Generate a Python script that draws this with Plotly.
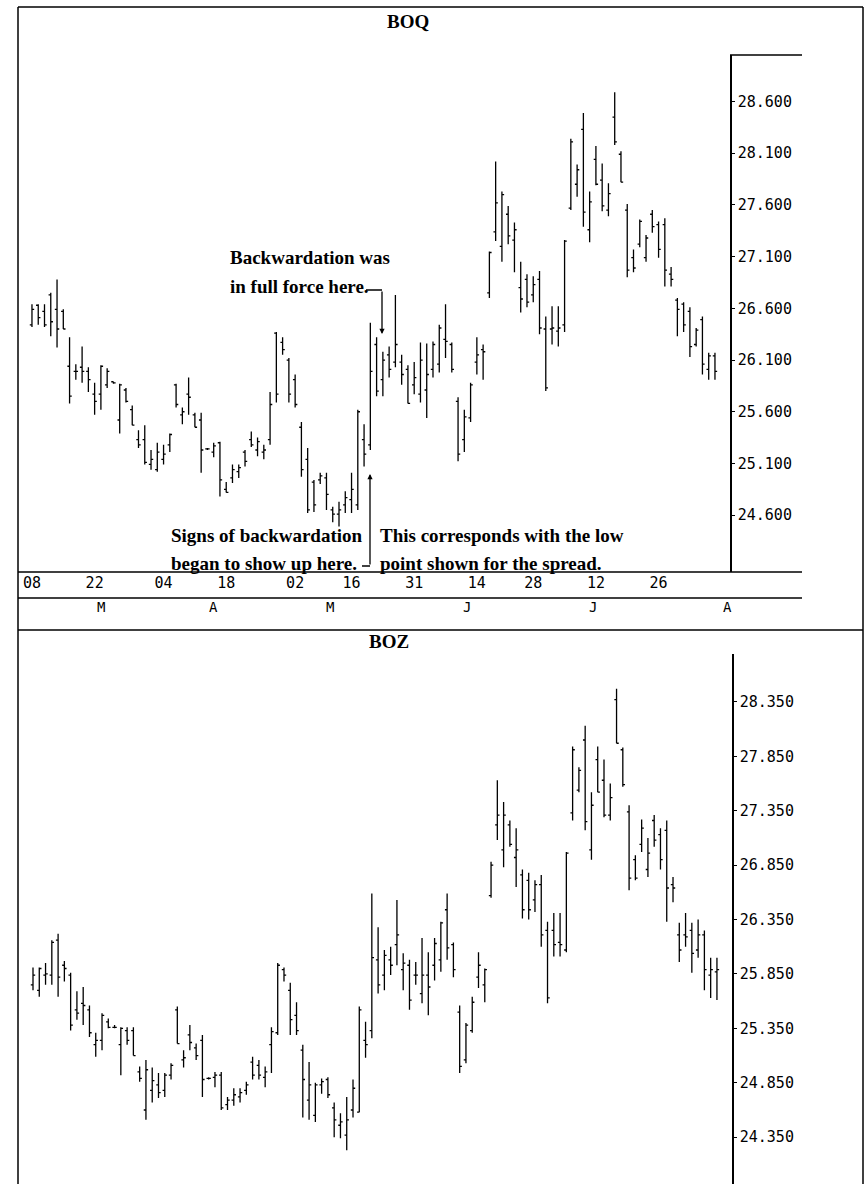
import plotly.graph_objects as go

# BOQ / BOZ daily bars (one entry per trading day)
days = list(range(110))

boq_open = [26.44, 26.63, 26.57, 26.73, 26.59, 26.57, 26.04, 25.99, 26.03, 25.99,
            25.77, 25.77, 25.86, 25.89, 25.52, 25.81, 25.62, 25.33, 25.33, 25.09,
            25.04, 25.14, 25.28, 25.86, 25.57, 25.77, 25.57, 25.52, 25.24, 25.21,
            25.30, 24.85, 24.96, 25.02, 25.21, 25.33, 25.23, 25.21, 25.33, 26.36,
            26.27, 26.10, 25.91, 25.45, 25.14, 24.92, 24.94, 24.96, 24.65, 24.61,
            24.70, 24.75, 24.70, 25.33, 25.28, 26.25, 25.91, 26.15, 26.08, 26.08,
            26.01, 25.86, 25.77, 25.81, 26.01, 26.06, 26.30, 26.25, 25.70, 25.33,
            25.54, 26.08, 26.20, 26.75, 27.34, 27.20, 27.51, 27.26, 26.80, 26.88,
            26.73, 26.88, 26.40, 26.40, 26.38, 26.44, 27.57, 27.80, 28.33, 27.36,
            28.04, 27.84, 27.55, 28.45, 28.09, 27.55, 27.09, 27.22, 27.09, 27.51,
            27.41, 27.41, 26.93, 26.68, 26.64, 26.57, 26.25, 26.49, 26.01, 26.14]
boq_high = [26.64, 26.64, 26.64, 26.75, 26.88, 26.59, 26.32, 26.06, 26.23, 26.03,
            25.88, 26.05, 26.02, 25.89, 25.87, 25.83, 25.66, 25.42, 25.47, 25.23,
            25.30, 25.28, 25.39, 25.87, 25.64, 25.93, 25.59, 25.59, 25.25, 25.30,
            25.31, 24.92, 25.09, 25.09, 25.23, 25.41, 25.35, 25.28, 25.79, 26.37,
            26.32, 26.12, 25.96, 25.50, 25.25, 24.94, 25.01, 25.01, 24.68, 24.73,
            24.83, 25.01, 25.62, 25.48, 26.46, 26.32, 26.18, 26.23, 26.73, 26.15,
            26.05, 26.08, 26.27, 26.26, 26.28, 26.44, 26.64, 26.27, 25.74, 25.62,
            25.88, 26.32, 26.25, 27.15, 28.02, 27.73, 27.59, 27.43, 27.05, 26.93,
            26.91, 26.96, 26.52, 26.62, 26.62, 27.26, 28.24, 27.99, 28.49, 27.73,
            28.17, 28.00, 27.81, 28.69, 28.12, 27.61, 27.17, 27.46, 27.31, 27.55,
            27.44, 27.47, 27.00, 26.70, 26.66, 26.61, 26.41, 26.52, 26.17, 26.17]
boq_low = [26.42, 26.44, 26.42, 26.33, 26.22, 26.40, 25.68, 25.91, 25.88, 25.79,
           25.57, 25.62, 25.83, 25.87, 25.39, 25.69, 25.47, 25.25, 25.09, 25.04,
           25.02, 25.09, 25.21, 25.64, 25.48, 25.57, 25.45, 25.01, 25.23, 25.16,
           24.78, 24.82, 24.91, 24.96, 25.07, 25.26, 25.17, 25.14, 25.28, 25.69,
           26.15, 25.69, 25.64, 24.97, 24.62, 24.63, 24.90, 24.65, 24.53, 24.49,
           24.62, 24.62, 24.65, 25.07, 25.23, 25.75, 25.75, 25.93, 26.03, 25.86,
           25.68, 25.77, 25.69, 25.54, 25.93, 25.98, 26.12, 25.98, 25.12, 25.21,
           25.50, 25.96, 25.91, 26.70, 27.25, 27.05, 27.22, 26.95, 26.56, 26.61,
           26.66, 26.35, 25.80, 26.25, 26.23, 26.37, 27.55, 27.68, 27.39, 27.24,
           27.79, 27.54, 27.49, 28.18, 27.82, 26.90, 26.95, 27.19, 27.05, 27.33,
           27.09, 26.81, 26.81, 26.33, 26.37, 26.13, 26.23, 25.96, 25.91, 25.91]
boq_close = [26.59, 26.51, 26.44, 26.47, 26.40, 26.40, 25.75, 25.99, 25.99, 25.91,
             25.70, 26.04, 25.99, 25.88, 25.86, 25.70, 25.47, 25.28, 25.11, 25.14,
             25.21, 25.19, 25.38, 25.67, 25.60, 25.74, 25.45, 25.23, 25.24, 25.27,
             24.94, 24.82, 25.04, 25.06, 25.12, 25.28, 25.31, 25.23, 25.67, 25.77,
             26.20, 25.77, 25.67, 25.04, 24.65, 24.70, 24.98, 24.80, 24.61, 24.65,
             24.77, 24.85, 25.60, 25.19, 25.99, 25.80, 26.10, 26.01, 26.25, 25.96,
             25.68, 25.93, 26.10, 25.96, 26.25, 26.41, 26.28, 26.01, 25.19, 25.55,
             25.86, 26.15, 26.18, 27.14, 27.62, 27.70, 27.30, 27.36, 26.69, 26.66,
             26.83, 26.41, 25.83, 26.41, 26.41, 27.25, 28.21, 27.94, 27.53, 27.63,
             27.80, 27.59, 27.71, 28.21, 27.82, 26.97, 26.99, 27.44, 27.28, 27.39,
             27.17, 26.97, 26.88, 26.59, 26.44, 26.23, 26.39, 26.06, 26.14, 25.99]

boz_open = [25.75, 25.70, 25.84, 25.84, 26.16, 25.93, 25.84, 25.52, 25.58, 25.52,
            25.20, 25.24, 25.41, 25.36, 25.20, 25.33, 25.33, 24.95, 24.60, 24.78,
            24.83, 24.78, 24.92, 25.52, 25.06, 25.29, 25.17, 25.24, 24.89, 24.90,
            24.92, 24.65, 24.69, 24.72, 24.78, 25.04, 25.01, 24.90, 25.20, 25.31,
            25.89, 25.70, 25.47, 25.15, 24.69, 24.55, 24.83, 24.88, 24.62, 24.46,
            24.37, 24.60, 24.58, 25.24, 25.33, 25.98, 25.84, 25.98, 26.12, 25.89,
            25.93, 25.84, 25.67, 25.84, 25.93, 25.98, 26.44, 26.12, 25.50, 25.06,
            25.33, 25.82, 25.75, 26.57, 27.22, 26.99, 27.22, 26.92, 26.76, 26.71,
            26.53, 26.67, 26.25, 26.25, 26.14, 26.07, 27.33, 27.54, 28.00, 26.99,
            27.82, 27.63, 27.31, 28.37, 27.91, 27.34, 26.90, 27.04, 26.81, 27.26,
            27.13, 27.17, 26.67, 26.21, 26.21, 26.25, 26.07, 26.21, 25.84, 25.87]
boz_high = [25.91, 25.91, 25.95, 26.16, 26.22, 25.97, 25.86, 25.69, 25.73, 25.56,
            25.31, 25.49, 25.44, 25.38, 25.36, 25.36, 25.36, 25.00, 25.06, 24.99,
            24.94, 24.94, 25.03, 25.55, 25.15, 25.38, 25.21, 25.29, 24.90, 24.95,
            24.95, 24.72, 24.80, 24.80, 24.86, 25.09, 25.06, 25.00, 25.36, 25.95,
            25.91, 25.77, 25.59, 25.20, 25.04, 24.85, 24.89, 24.90, 24.67, 24.57,
            24.72, 24.88, 25.55, 25.41, 26.59, 26.28, 26.07, 26.10, 26.53, 26.04,
            25.98, 25.96, 26.18, 26.05, 26.18, 26.33, 26.59, 26.14, 25.56, 25.40,
            25.64, 26.05, 25.90, 26.88, 27.63, 27.43, 27.26, 27.19, 26.81, 26.78,
            26.71, 26.76, 26.33, 26.41, 26.41, 26.97, 27.94, 27.75, 28.13, 27.52,
            27.94, 27.82, 27.60, 28.47, 27.93, 27.40, 26.94, 27.27, 27.10, 27.31,
            27.19, 27.26, 26.74, 26.32, 26.41, 26.32, 26.35, 26.25, 26.00, 26.00]
boz_low = [25.70, 25.64, 25.75, 25.75, 25.64, 25.78, 25.33, 25.43, 25.38, 25.27,
           25.09, 25.15, 25.35, 25.35, 24.92, 25.20, 25.10, 24.86, 24.51, 24.67,
           24.71, 24.72, 24.88, 25.21, 24.99, 25.15, 25.06, 24.72, 24.88, 24.81,
           24.60, 24.60, 24.64, 24.67, 24.74, 24.88, 24.88, 24.81, 24.94, 25.29,
           25.78, 25.29, 25.29, 24.53, 24.51, 24.49, 24.75, 24.71, 24.35, 24.34,
           24.23, 24.53, 24.58, 25.08, 25.26, 25.67, 25.70, 25.84, 25.93, 25.70,
           25.52, 25.75, 25.58, 25.47, 25.79, 25.87, 25.98, 25.82, 24.94, 25.03,
           25.31, 25.72, 25.59, 26.55, 27.08, 26.83, 27.02, 26.65, 26.36, 26.35,
           26.42, 26.10, 25.58, 26.01, 26.01, 26.05, 27.26, 27.52, 27.17, 26.90,
           27.52, 27.29, 27.26, 27.97, 27.57, 26.62, 26.71, 26.97, 26.74, 27.02,
           26.81, 26.33, 26.51, 25.96, 26.10, 25.86, 26.00, 25.70, 25.63, 25.61]
boz_close = [25.84, 25.90, 25.85, 26.14, 25.82, 25.90, 25.38, 25.49, 25.56, 25.31,
             25.24, 25.47, 25.36, 25.36, 25.35, 25.24, 25.10, 24.89, 24.97, 24.87,
             24.76, 24.92, 25.01, 25.21, 25.08, 25.22, 25.10, 24.88, 24.89, 24.92,
             24.62, 24.69, 24.74, 24.76, 24.83, 24.92, 24.92, 24.95, 25.32, 25.93,
             25.84, 25.43, 25.33, 24.88, 24.83, 24.83, 24.86, 24.74, 24.51, 24.49,
             24.51, 24.80, 25.52, 25.20, 26.00, 25.75, 26.02, 25.93, 26.21, 25.95,
             25.61, 25.84, 25.84, 25.73, 26.13, 26.32, 26.09, 25.89, 25.00, 25.38,
             25.59, 25.93, 25.89, 26.85, 27.31, 27.31, 27.04, 26.99, 26.44, 26.44,
             26.67, 26.21, 25.63, 26.12, 26.12, 26.96, 27.91, 27.72, 27.25, 27.40,
             27.52, 27.31, 27.47, 27.97, 27.59, 26.73, 26.73, 27.19, 26.96, 27.08,
             26.90, 26.64, 26.64, 26.07, 26.19, 26.04, 26.21, 25.89, 25.89, 25.89]

# axis labels
day_ticks = [0, 10, 21, 31, 42, 51, 61, 71, 80, 90, 100]
day_labels = ["08", "22", "04", "18", "02", "16", "31", "14", "28", "12", "26"]
month_pos = [10, 28, 47.5, 69.5, 90.5, 112]
month_labels = ["M", "A", "M", "J", "J", "A"]
boq_ticks = [24.6, 25.1, 25.6, 26.1, 26.6, 27.1, 27.6, 28.1, 28.6]
boz_ticks = [24.35, 24.85, 25.35, 25.85, 26.35, 26.85, 27.35, 27.85, 28.35]

W, H = 866, 1184
MONO = "DejaVu Sans Mono"
SERIF = "Liberation Serif"

X_DOM = [18 / W, 730 / W]
X_RANGE = [-2.23, 111.4]


def px(x):
    return x / W


def py(y):
    return 1 - y / H


def day_to_paper(d):
    # same mapping the top x axis uses, so labels past the range still show
    f = (d - X_RANGE[0]) / (X_RANGE[1] - X_RANGE[0])
    return X_DOM[0] + f * (X_DOM[1] - X_DOM[0])


fig = go.Figure()
fig.add_trace(go.Ohlc(x=days, open=boq_open, high=boq_high, low=boq_low, close=boq_close,
                      xaxis="x", yaxis="y", tickwidth=0.35, hoverinfo="skip",
                      increasing_line_color="black", decreasing_line_color="black",
                      line_width=1.3, showlegend=False))
fig.add_trace(go.Ohlc(x=days, open=boz_open, high=boz_high, low=boz_low, close=boz_close,
                      xaxis="x2", yaxis="y2", tickwidth=0.35, hoverinfo="skip",
                      increasing_line_color="black", decreasing_line_color="black",
                      line_width=1.3, showlegend=False))

fig.update_layout(
    width=W, height=H, margin=dict(l=0, r=0, t=0, b=0),
    paper_bgcolor="white", plot_bgcolor="white", showlegend=False,
    xaxis=dict(domain=X_DOM, range=X_RANGE, anchor="y",
               rangeslider=dict(visible=False), showgrid=False, zeroline=False,
               showline=False, ticks="", tickvals=day_ticks, ticktext=day_labels,
               tickfont=dict(family=MONO, size=15, color="black")),
    yaxis=dict(domain=[py(572), py(55)], range=[24.05, 29.05], anchor="x", side="right",
               showgrid=False, zeroline=False, showline=True, linecolor="black", linewidth=1.5,
               ticks="outside", ticklen=3, tickcolor="black", tickvals=boq_ticks,
               ticktext=["%.3f" % v for v in boq_ticks],
               tickfont=dict(family=MONO, size=15, color="black")),
    xaxis2=dict(domain=[px(18), px(732)], range=[-2.39, 111.4], anchor="y2",
                rangeslider=dict(visible=False), visible=False),
    yaxis2=dict(domain=[0, py(654)], range=[23.92, 28.79], anchor="x2", side="right",
                showgrid=False, zeroline=False, showline=True, linecolor="black", linewidth=1.5,
                ticks="outside", ticklen=3, tickcolor="black", tickvals=boz_ticks,
                ticktext=["%.3f" % v for v in boz_ticks],
                tickfont=dict(family=MONO, size=15, color="black")),
)

# frame and rule lines
lines = [(18, 7, 863, 7), (18, 7, 18, 1184), (863, 7, 863, 1184),
         (730, 55, 802, 55), (18, 572, 802, 572), (18, 598, 802, 598),
         (18, 630, 863, 630),
         (366, 290, 382, 290), (362, 566, 370, 566)]
for x0, y0, x1, y1 in lines:
    fig.add_shape(type="line", xref="paper", yref="paper",
                  x0=px(x0), y0=py(y0), x1=px(x1), y1=py(y1),
                  line=dict(color="black", width=1.5))

# month row under the dates
for m, pos in zip(month_labels, month_pos):
    fig.add_annotation(x=day_to_paper(pos), y=py(607), xref="paper", yref="paper",
                       text=m, showarrow=False, yanchor="middle",
                       font=dict(family=MONO, size=14, color="black"))

# titles
fig.add_annotation(x=px(408), y=py(21), xref="paper", yref="paper", text="<b>BOQ</b>",
                   showarrow=False, yanchor="middle",
                   font=dict(family=SERIF, size=19, color="black"))
fig.add_annotation(x=px(389), y=py(641), xref="paper", yref="paper", text="<b>BOZ</b>",
                   showarrow=False, yanchor="middle",
                   font=dict(family=SERIF, size=19, color="black"))

# notes
notes = [("Backwardation was", 228, 258), ("in full force here.", 228, 286),
         ("Signs of backwardation", 169, 536), ("began to show up here.", 169, 563),
         ("This corresponds with the low", 378, 536), ("point shown for the spread.", 378, 563)]
for txt, x, y in notes:
    fig.add_annotation(x=px(x), y=py(y), xref="paper", yref="paper", text="<b>%s</b>" % txt,
                       showarrow=False, xanchor="left", yanchor="middle",
                       font=dict(family=SERIF, size=19, color="black"))

# arrows
fig.add_annotation(x=px(382), y=py(334), xref="paper", yref="paper", text="",
                   showarrow=True, ax=0, ay=-44, arrowhead=2, arrowsize=0.8,
                   arrowwidth=1.3, arrowcolor="black")
fig.add_annotation(x=px(370), y=py(474), xref="paper", yref="paper", text="",
                   showarrow=True, ax=0, ay=92, arrowhead=2, arrowsize=0.8,
                   arrowwidth=1.3, arrowcolor="black")

# page body has a default 8px margin; drop it so the figure fills the window
fig.write_html("out.html", config={"displayModeBar": False},
               post_script="document.body.style.margin='0';")
